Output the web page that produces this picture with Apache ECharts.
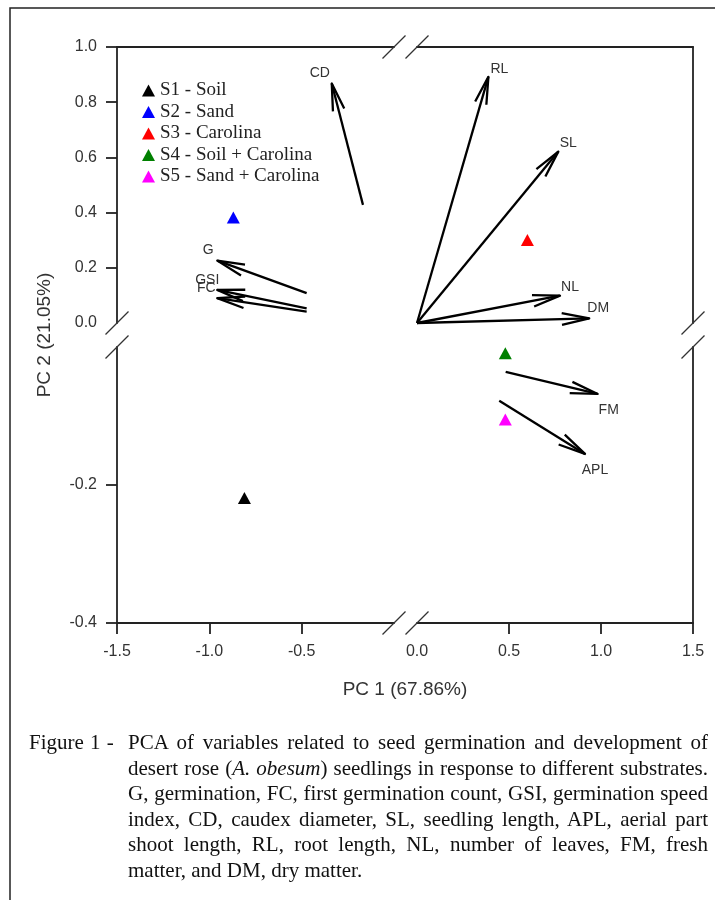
<!DOCTYPE html>
<html>
<head>
<meta charset="utf-8">
<title>PCA biplot</title>
<script src="https://cdn.jsdelivr.net/npm/echarts@6/dist/echarts.min.js"></script>
<style>
  html, body { margin: 0; padding: 0; background: #fff; }
  #wrap { position: relative; width: 715px; height: 900px; overflow: hidden; }
  #chart { position: absolute; left: 0; top: 0; width: 715px; height: 900px; }
  .cap { position: absolute; font-family: "Liberation Serif", "Times New Roman", serif; font-size: 21px; color: #111; line-height: 25.5px; }
  .fig { left: 29px; top: 730px; word-spacing: 1px; }
  .body { left: 128px; top: 730px; width: 580px; }
  .ln { text-align: justify; text-align-last: justify; }
  .ln.last { text-align-last: left; }
</style>
</head>
<body>
<div id="wrap">
  <div id="chart"></div>
  <div class="cap fig">Figure 1 -</div>
  <div class="cap body">
    <div class="ln">PCA of variables related to seed germination and development of</div>
    <div class="ln">desert rose (<i>A. obesum</i>) seedlings in response to different substrates.</div>
    <div class="ln">G, germination, FC, first germination count, GSI, germination speed</div>
    <div class="ln">index, CD, caudex diameter, SL, seedling length, APL, aerial part</div>
    <div class="ln">shoot length, RL, root length, NL, number of leaves, FM, fresh</div>
    <div class="ln last">matter, and DM, dry matter.</div>
  </div>
</div>
<script>
// sample scores (triangles)
var scoreNames = ['S1 - Soil', 'S2 - Sand', 'S3 - Carolina', 'S4 - Soil + Carolina', 'S5 - Sand + Carolina'];
var scoreX = [-0.81, -0.87, 0.60, 0.48, 0.48];
var scoreY = [-0.219, 0.382, 0.301, -0.009, -0.105];
var scoreColors = ['#000000', '#0000ff', '#ff0000', '#008000', '#ff00ff'];

// variable loadings (arrows: tail -> tip)
var varNames = ['CD', 'G', 'GSI', 'FC', 'RL', 'SL', 'NL', 'DM', 'FM', 'APL'];
var varX0 = [-0.168, -0.473, -0.473, -0.473, 0, 0, 0, 0, 0.482, 0.447];
var varY0 = [0.428, 0.108, 0.053, 0.041, 0, 0, 0, 0, -0.036, -0.078];
var varX1 = [-0.337, -0.957, -0.957, -0.957, 0.388, 0.768, 0.777, 0.936, 0.982, 0.913];
var varY1 = [0.868, 0.226, 0.12, 0.09, 0.892, 0.621, 0.099, 0.017, -0.068, -0.155];

// tick labels
var xTicksLeft = [-1.5, -1.0, -0.5];
var xLabelsRight = [0, 0.5, 1.0, 1.5];
var xTicksRight = [0.5, 1.0, 1.5];
var yLabelsUpper = [0, 0.2, 0.4, 0.6, 0.8, 1.0];
var yTicksUpper = [0.2, 0.4, 0.6, 0.8, 1.0];
var yTicksLower = [-0.4, -0.2];

// layout of the broken axes (pixels)
var L = 117, LW = 277, R = 417, RW = 276;
var T = 47, TH = 276, B = 347, BH = 276;

// label offset from arrow tip
var labelOffset = {
  CD: [-12, -10], G: [-9, -10], GSI: [-10, -10], FC: [-11, -10],
  RL: [11, -8], SL: [10, -8], NL: [10, -9], DM: [9, -10],
  FM: [11, 16], APL: [10, 16]
};

function quadrant(x, y) {
  return (x < 0 ? 0 : 1) + (y < 0 ? 2 : 0);
}

var axisColor = '#222';
var lineStyle = { color: axisColor, width: 1.8 };
var labelStyle = { color: '#333', fontSize: 16, fontFamily: 'Liberation Sans, Arial, sans-serif' };

function fmt(v) { return v.toFixed(1); }

var xAxes = [
  { gridIndex: 0, type: 'value', min: -1.5, max: 0, position: 'top',
    axisLine: { onZero: false, lineStyle: lineStyle }, axisTick: { show: false }, axisLabel: { show: false }, splitLine: { show: false } },
  { gridIndex: 1, type: 'value', min: 0, max: 1.5, position: 'top',
    axisLine: { onZero: false, lineStyle: lineStyle }, axisTick: { show: false }, axisLabel: { show: false }, splitLine: { show: false } },
  { gridIndex: 2, type: 'value', min: -1.5, max: 0, position: 'bottom',
    axisLine: { onZero: false, lineStyle: lineStyle },
    axisTick: { inside: false, length: 11, lineStyle: lineStyle, customValues: xTicksLeft },
    axisLabel: Object.assign({ margin: 21, formatter: fmt, customValues: xTicksLeft }, labelStyle),
    splitLine: { show: false } },
  { gridIndex: 3, type: 'value', min: 0, max: 1.5, position: 'bottom',
    axisLine: { onZero: false, lineStyle: lineStyle },
    axisTick: { inside: false, length: 11, lineStyle: lineStyle, customValues: xTicksRight },
    axisLabel: Object.assign({ margin: 21, formatter: fmt, customValues: xLabelsRight }, labelStyle),
    splitLine: { show: false } }
];

var yAxes = [
  { gridIndex: 0, type: 'value', min: 0, max: 1, position: 'left',
    axisLine: { onZero: false, lineStyle: lineStyle },
    axisTick: { inside: false, length: 11, lineStyle: lineStyle, customValues: yTicksUpper },
    axisLabel: Object.assign({ margin: 20, formatter: fmt, customValues: yLabelsUpper }, labelStyle),
    splitLine: { show: false } },
  { gridIndex: 1, type: 'value', min: 0, max: 1, position: 'right',
    axisLine: { onZero: false, lineStyle: lineStyle }, axisTick: { show: false }, axisLabel: { show: false }, splitLine: { show: false } },
  { gridIndex: 2, type: 'value', min: -0.4, max: 0, position: 'left',
    axisLine: { onZero: false, lineStyle: lineStyle },
    axisTick: { inside: false, length: 11, lineStyle: lineStyle, customValues: yTicksLower },
    axisLabel: Object.assign({ margin: 20, formatter: fmt, customValues: yTicksLower }, labelStyle),
    splitLine: { show: false } },
  { gridIndex: 3, type: 'value', min: -0.4, max: 0, position: 'right',
    axisLine: { onZero: false, lineStyle: lineStyle }, axisTick: { show: false }, axisLabel: { show: false }, splitLine: { show: false } }
];

// arrows grouped by quadrant
var arrowData = [[], [], [], []];
for (var i = 0; i < varNames.length; i++) {
  arrowData[quadrant(varX1[i], varY1[i])].push([varX0[i], varY0[i], varX1[i], varY1[i], i]);
}

function renderArrow(params, api) {
  var p0 = api.coord([api.value(0), api.value(1)]);
  var p1 = api.coord([api.value(2), api.value(3)]);
  var name = varNames[api.value(4)];
  var off = labelOffset[name];
  var ang = Math.atan2(p1[1] - p0[1], p1[0] - p0[0]);
  var hl = 28, ha = 12 * Math.PI / 180;
  var h1 = [p1[0] - hl * Math.cos(ang - ha), p1[1] - hl * Math.sin(ang - ha)];
  var h2 = [p1[0] - hl * Math.cos(ang + ha), p1[1] - hl * Math.sin(ang + ha)];
  return {
    type: 'group',
    children: [
      { type: 'line', shape: { x1: p0[0], y1: p0[1], x2: p1[0], y2: p1[1] },
        style: { stroke: '#000', lineWidth: 2.3 } },
      { type: 'polyline', shape: { points: [h1, p1, h2] },
        style: { stroke: '#000', fill: 'none', lineWidth: 2.3, lineJoin: 'round' } },
      { type: 'text', x: p1[0] + off[0], y: p1[1] + off[1],
        style: { text: name, fill: '#333', fontSize: 14, fontFamily: 'Liberation Sans, Arial, sans-serif',
                 align: 'center', verticalAlign: 'middle' } }
    ]
  };
}

var series = [];
arrowData.forEach(function (d, q) {
  if (!d.length) return;
  series.push({
    type: 'custom', xAxisIndex: q, yAxisIndex: q, data: d,
    renderItem: renderArrow, silent: true, z: 2
  });
});
scoreNames.forEach(function (n, i) {
  var q = quadrant(scoreX[i], scoreY[i]);
  series.push({
    type: 'scatter', name: n, xAxisIndex: q, yAxisIndex: q,
    data: [[scoreX[i], scoreY[i]]],
    symbol: 'triangle', symbolSize: [13, 12],
    itemStyle: { color: scoreColors[i], opacity: 1 }, z: 3
  });
});

// break marks "//" at the gaps
function slash(cx, cy) {
  var h = 11.5;
  return { type: 'line', shape: { x1: cx - h, y1: cy + h, x2: cx + h, y2: cy - h },
           style: { stroke: '#333', lineWidth: 1.2 }, z: 10 };
}
var gapX0 = L + LW, gapX1 = R, gapY0 = T + TH, gapY1 = B;
var graphics = [
  { type: 'rect', shape: { x: 10, y: 8, width: 1200, height: 1200 },
    style: { fill: 'none', stroke: '#222', lineWidth: 1.5 }, z: 1 },
  slash(gapX0, T), slash(gapX1, T),
  slash(gapX0, B + BH), slash(gapX1, B + BH),
  slash(L, gapY0), slash(L, gapY1),
  slash(R + RW, gapY0), slash(R + RW, gapY1),
  { type: 'text', x: (L + R + RW) / 2, y: 690,
    style: { text: 'PC 1 (67.86%)', fill: '#333', fontSize: 19, fontFamily: 'Liberation Sans, Arial, sans-serif',
             align: 'center', verticalAlign: 'middle' } },
  { type: 'text', x: 45, y: (T + B + BH) / 2, rotation: Math.PI / 2,
    style: { text: 'PC 2 (21.05%)', fill: '#333', fontSize: 19, fontFamily: 'Liberation Sans, Arial, sans-serif',
             align: 'center', verticalAlign: 'middle' } }
];

var chart = echarts.init(document.getElementById('chart'), null, { renderer: 'canvas' });
chart.setOption({
  animation: false,
  backgroundColor: 'transparent',
  grid: [
    { left: L, top: T, width: LW, height: TH },
    { left: R, top: T, width: RW, height: TH },
    { left: L, top: B, width: LW, height: BH },
    { left: R, top: B, width: RW, height: BH }
  ],
  xAxis: xAxes,
  yAxis: yAxes,
  legend: {
    data: scoreNames.map(function (n) { return { name: n, icon: 'triangle' }; }),
    orient: 'vertical', left: 137, top: 76,
    itemWidth: 13, itemHeight: 12, itemGap: 2.5,
    selectedMode: false,
    itemStyle: { opacity: 1 },
    textStyle: { fontFamily: 'Liberation Serif, Times New Roman, serif', fontSize: 19, lineHeight: 19, color: '#222' }
  },
  graphic: graphics,
  series: series
});
</script>
</body>
</html>
